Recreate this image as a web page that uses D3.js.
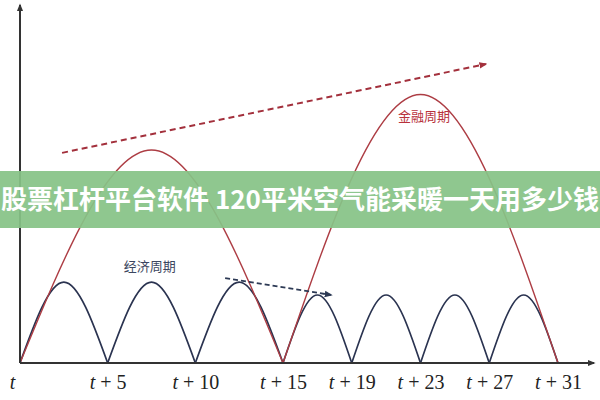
<!DOCTYPE html>
<html>
<head>
<meta charset="utf-8">
<script src="https://cdn.jsdelivr.net/npm/d3@7"></script>
<style>
  body { margin: 0; background: #fff; }
  svg { display: block; }
</style>
</head>
<body>
<script>
// cycle boundaries (in t units) and peak heights (arbitrary units 0..100)
var econBounds = [0, 5, 10, 15, 19, 23, 27, 31];
var econPeaks = [22.6, 22.6, 22.6, 19, 19, 19, 19];
var finBounds = [0, 15, 31];
var finPeaks = [59.5, 75];
var tickVals = [0, 5, 10, 15, 19, 23, 27, 31];
var finTrend = [[2.4, 58.7], [26.8, 83.5]];
var econTrend = [[11.7, 23.7], [17.8, 19]];
var bannerText = "股票杠杆平台软件 120平米空气能采暖一天用多少钱";

var width = 600, height = 400;

var x = d3.scaleLinear().domain([0, 15, 31]).range([20, 283, 558]);
var y = d3.scaleLinear().domain([0, 100]).range([363, 5]);

var svg = d3.select("body").append("svg")
    .attr("width", width)
    .attr("height", height);

var defs = svg.append("defs");
function addArrow(id, color, size) {
    defs.append("marker")
        .attr("id", id)
        .attr("viewBox", "0 0 10 10")
        .attr("refX", 8)
        .attr("refY", 5)
        .attr("markerWidth", size)
        .attr("markerHeight", size)
        .attr("markerUnits", "userSpaceOnUse")
        .attr("orient", "auto")
        .append("path")
        .attr("d", "M0,1L10,5L0,9Z")
        .attr("fill", color);
}
addArrow("arrAxis", "#333", 8);
addArrow("arrRed", "#a3303c", 8);
addArrow("arrBlue", "#2d3a55", 8);

var line = d3.line()
    .x(function (d) { return x(d[0]); })
    .y(function (d) { return y(d[1]); })
    .curve(d3.curveNatural);

function arcs(bounds, peaks) {
    var out = [];
    for (var i = 0; i < peaks.length; i++) {
        out.push([[bounds[i], 0], [(bounds[i] + bounds[i + 1]) / 2, peaks[i]], [bounds[i + 1], 0]]);
    }
    return out;
}

// economic cycles
svg.append("g").selectAll("path")
    .data(arcs(econBounds, econPeaks))
    .enter().append("path")
    .attr("d", line)
    .attr("fill", "none")
    .attr("stroke", "#2a3350")
    .attr("stroke-width", 1.7);

// financial cycles
svg.append("g").selectAll("path")
    .data(arcs(finBounds, finPeaks))
    .enter().append("path")
    .attr("d", line)
    .attr("fill", "none")
    .attr("stroke", "#ad3d44")
    .attr("stroke-width", 1.4);

// trend arrows
var straight = d3.line()
    .x(function (d) { return x(d[0]); })
    .y(function (d) { return y(d[1]); });

svg.append("path")
    .attr("d", straight(finTrend))
    .attr("fill", "none")
    .attr("stroke", "#a3303c")
    .attr("stroke-width", 2)
    .attr("stroke-dasharray", "6,4")
    .attr("marker-end", "url(#arrRed)");

svg.append("path")
    .attr("d", straight(econTrend))
    .attr("fill", "none")
    .attr("stroke", "#2d3a55")
    .attr("stroke-width", 1.8)
    .attr("stroke-dasharray", "5,3")
    .attr("marker-end", "url(#arrBlue)");

// labels
svg.append("text")
    .attr("x", x(23.2))
    .attr("y", y(67.5))
    .attr("text-anchor", "middle")
    .attr("font-family", "Noto Sans CJK SC")
    .attr("font-size", 13)
    .attr("fill", "#b8323c")
    .text("金融周期");

svg.append("text")
    .attr("x", x(7.4))
    .attr("y", y(25.8))
    .attr("text-anchor", "middle")
    .attr("font-family", "Noto Sans CJK SC")
    .attr("font-size", 13)
    .attr("fill", "#3c4660")
    .text("经济周期");

// axes
svg.append("line")
    .attr("x1", x(0)).attr("y1", y(0))
    .attr("x2", x(0)).attr("y2", y(100))
    .attr("stroke", "#333")
    .attr("stroke-width", 2)
    .attr("marker-end", "url(#arrAxis)");

svg.append("line")
    .attr("x1", x(0)).attr("y1", y(0))
    .attr("x2", 594).attr("y2", y(0))
    .attr("stroke", "#333")
    .attr("stroke-width", 2)
    .attr("marker-end", "url(#arrAxis)");

var xAxis = d3.axisBottom(x)
    .tickValues(tickVals)
    .tickSize(0)
    .tickPadding(20)
    .tickFormat(function (d) { return d; });

var gx = svg.append("g")
    .attr("transform", "translate(0," + y(0) + ")")
    .call(xAxis);
gx.select(".domain").remove();
gx.selectAll(".tick text").each(function (d) {
    var t = d3.select(this);
    t.text(null)
        .attr("font-family", "Liberation Serif")
        .attr("font-size", 20)
        .attr("fill", "#222")
        .attr("dy", "0.3em");
    t.append("tspan").attr("font-style", "italic").text("t");
    if (d > 0) {
        t.append("tspan").text(" + " + d);
    } else {
        t.attr("dx", -8);
    }
});

// banner
svg.append("rect")
    .attr("x", 0).attr("y", 171)
    .attr("width", width).attr("height", 57)
    .attr("fill", "#86c386")
    .attr("opacity", 0.93);

svg.append("text")
    .attr("x", width / 2)
    .attr("y", 200)
    .attr("dy", "0.35em")
    .attr("text-anchor", "middle")
    .attr("font-family", "Noto Sans CJK SC")
    .attr("font-weight", "bold")
    .attr("font-size", 26)
    .attr("fill", "#fff")
    .text(bannerText);
</script>
</body>
</html>
